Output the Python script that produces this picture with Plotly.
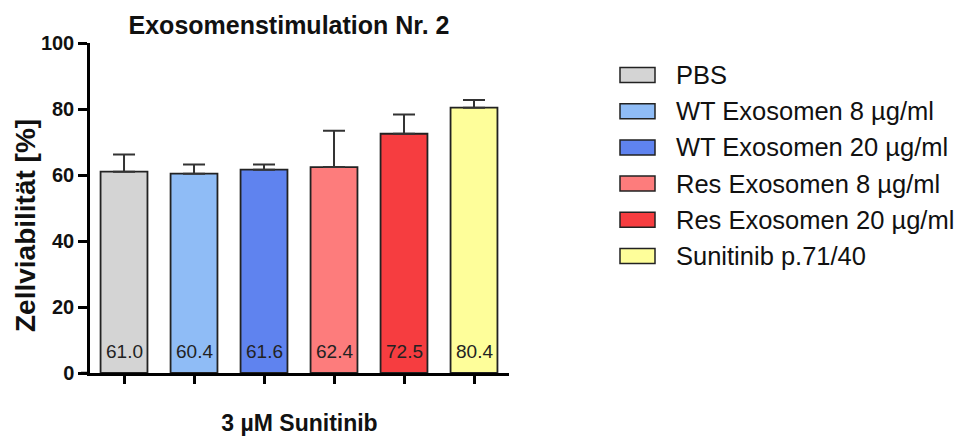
import plotly.graph_objects as go

# ---- data ----
categories = ["PBS", "WT Exosomen 8 µg/ml", "WT Exosomen 20 µg/ml",
              "Res Exosomen 8 µg/ml", "Res Exosomen 20 µg/ml", "Sunitinib p.71/40"]
values = [61.0, 60.4, 61.6, 62.4, 72.5, 80.4]
errors = [5.2, 2.8, 1.6, 11.0, 5.8, 2.3]
value_labels = ["61.0", "60.4", "61.6", "62.4", "72.5", "80.4"]
colors = ["#d4d4d4", "#8fbcf6", "#5f83ef", "#fd7c7c", "#f63d40", "#fefe9a"]
y_ticks = [0, 20, 40, 60, 80, 100]

FONT = "Liberation Sans, Arial, sans-serif"

plot_l, plot_r, plot_t, plot_b = 90, 509, 43, 373
pw, ph = plot_r - plot_l, plot_b - plot_t
def px_x(px):
    return (px - plot_l) / pw
def px_y(py):
    return (plot_b - py) / ph

fig = go.Figure()
fig.add_trace(go.Bar(
    x=categories, y=values, width=0.67,
    marker=dict(color=colors, line=dict(color="#222222", width=1.8)),
    error_y=dict(type="data", symmetric=False, array=errors,
                 arrayminus=[0] * len(errors), color="#333333",
                 thickness=2, width=11),
    showlegend=False, hoverinfo="skip",
))

annotations = []
for c, lab in zip(categories, value_labels):
    annotations.append(dict(x=c, y=0, xref="x", yref="y", text=lab,
                            showarrow=False, yanchor="bottom", yshift=9,
                            font=dict(family=FONT, size=19, color="#222222")))

# y-axis title
annotations.append(dict(x=px_x(25), y=px_y(226), xref="paper", yref="paper",
                        text="Zellviabilität [%]", showarrow=False, textangle=-90,
                        xanchor="center", yanchor="middle",
                        font=dict(family=FONT, size=28, color="#111111", weight="bold")))

# manual legend
shapes = []
leg_top, leg_step = 75, 36.2
for i, (name, col) in enumerate(zip(categories, colors)):
    yc = leg_top + i * leg_step
    shapes.append(dict(type="rect", xref="paper", yref="paper",
                       x0=px_x(620), x1=px_x(655), y0=px_y(yc - 7.5), y1=px_y(yc + 7.5),
                       fillcolor=col, line=dict(color="#222222", width=1.5)))
    annotations.append(dict(x=px_x(674), y=px_y(yc), xref="paper", yref="paper",
                            text=name, showarrow=False, xanchor="left", yanchor="middle",
                            font=dict(family=FONT, size=25.5, color="#111111")))

# x-axis line extension to the left of the y-axis
shapes.append(dict(type="line", xref="paper", yref="paper",
                   x0=px_x(81), x1=0, y0=0, y1=0,
                   line=dict(color="black", width=2.5)))

fig.update_layout(
    width=958, height=438,
    margin=dict(l=plot_l, r=958 - plot_r, t=plot_t, b=438 - plot_b, autoexpand=False),
    paper_bgcolor="white", plot_bgcolor="white",
    title=dict(text="Exosomenstimulation Nr. 2", x=289 / 958, xanchor="center",
               xref="container", y=1 - 25 / 438, yanchor="middle",
               font=dict(family=FONT, size=25, color="#111111", weight="bold")),
    annotations=annotations, shapes=shapes,
)
fig.update_xaxes(
    range=[-0.486, 5.5], showline=True, linecolor="black", linewidth=2.5,
    ticks="outside", ticklen=8, tickwidth=2.5, tickcolor="black",
    showticklabels=False, showgrid=False, zeroline=False, automargin=False,
    title=dict(text="3 µM Sunitinib", standoff=33,
               font=dict(family=FONT, size=23, color="#111111", weight="bold")),
)
fig.update_yaxes(
    range=[0, 100], tickvals=y_ticks, showline=True, linecolor="black", linewidth=2.5,
    ticks="outside", ticklen=9, tickwidth=2.5, tickcolor="black", automargin=False,
    tickfont=dict(family=FONT, size=20, color="#111111", weight="bold"),
    showgrid=False, zeroline=False,
)

fig.write_html("out.html", config={"displayModeBar": False},
               post_script="document.body.style.margin='0';")
